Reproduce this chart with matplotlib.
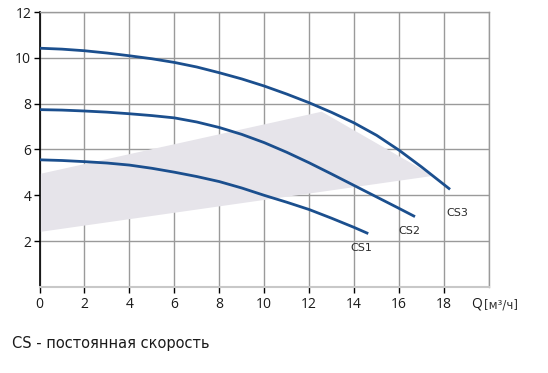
import numpy as np
import matplotlib.pyplot as plt

# кривые насоса (Q, H)
q_cs1 = [0, 1, 2, 3, 4, 5, 6, 7, 8, 9, 10, 11, 12, 13, 14, 14.63]
h_cs1 = [5.55, 5.52, 5.47, 5.41, 5.32, 5.18, 5.01, 4.82, 4.6, 4.32, 4.0, 3.7, 3.38, 3.0, 2.6, 2.33]

q_cs2 = [0, 1, 2, 3, 4, 5, 6, 7, 8, 9, 10, 11, 12, 13, 14, 15, 16, 16.71]
h_cs2 = [7.74, 7.72, 7.68, 7.63, 7.56, 7.48, 7.38, 7.2, 6.96, 6.66, 6.3, 5.88, 5.42, 4.93, 4.43, 3.93, 3.43, 3.07]

q_cs3 = [0, 1, 2, 3, 4, 5, 6, 7, 8, 9, 10, 11, 12, 13, 14, 15, 16, 17, 18.27]
h_cs3 = [10.42, 10.38, 10.31, 10.21, 10.09, 9.96, 9.8, 9.6, 9.35, 9.08, 8.77, 8.42, 8.04, 7.62, 7.16, 6.62, 5.97, 5.24, 4.26]

# рабочая область
zone_q = [0, 0, 12.56, 17.52]
zone_h = [2.4, 4.93, 7.65, 4.85]

labels = ["CS1", "CS2", "CS3"]
label_q = [14.34, 16.44, 18.58]
label_h = [1.72, 2.46, 3.24]

blue = "#1b4f8e"

fig = plt.figure(figsize=(5.48, 3.73), dpi=100)
ax = fig.add_axes([0.0721, 0.2306, 0.8201, 0.7372])

ax.fill(zone_q, zone_h, color="#e6e4ea", lw=0, zorder=1)

for q, h in [(q_cs1, h_cs1), (q_cs2, h_cs2), (q_cs3, h_cs3)]:
    ax.plot(q, h, color=blue, lw=2, solid_capstyle="butt",
            solid_joinstyle="round", zorder=3)

for t, x, y in zip(labels, label_q, label_h):
    ax.text(x, y, t, ha="center", va="center", fontsize=8,
            color="#2a2a2a", family="DejaVu Sans")

ax.set_xlim(0, 20)
ax.set_ylim(0, 12)
ax.set_xticks(np.arange(0, 19, 2))
ax.set_xticks([20], minor=True)
ax.set_yticks(np.arange(2, 13, 2))
ax.grid(True, color="#9a9a9a", lw=1, zorder=0)
ax.grid(True, which="minor", axis="x", color="#9a9a9a", lw=1, zorder=0)
ax.tick_params(axis="x", which="minor", length=0)
ax.set_axisbelow(True)

for s in ["top", "right"]:
    ax.spines[s].set_color("#9a9a9a")
    ax.spines[s].set_linewidth(1)
ax.spines["bottom"].set_color("#c8c8c8")
ax.spines["bottom"].set_linewidth(1.5)
ax.spines["left"].set_color("black")
ax.spines["left"].set_linewidth(1.2)

ax.tick_params(axis="both", which="major", length=4, width=1, color="black",
               labelsize=10, labelcolor="#1a1a1a", pad=2)
ax.tick_params(axis="x", pad=3)
for lab in ax.get_xticklabels() + ax.get_yticklabels():
    lab.set_family("Open Sans")

ax.text(19.23, -0.42, "Q", fontsize=10, va="top", ha="left",
        color="#1a1a1a", family="Open Sans", clip_on=False)
ax.text(19.78, -0.5, "[м³/ч]", fontsize=8.5, va="top", ha="left",
        color="#333333", family="DejaVu Sans", clip_on=False)

fig.text(0.022, 0.08, "CS - постоянная скорость", fontsize=10.5,
         color="#1a1a1a", family="DejaVu Sans", va="center")

fig.savefig("out.png", dpi=100)
